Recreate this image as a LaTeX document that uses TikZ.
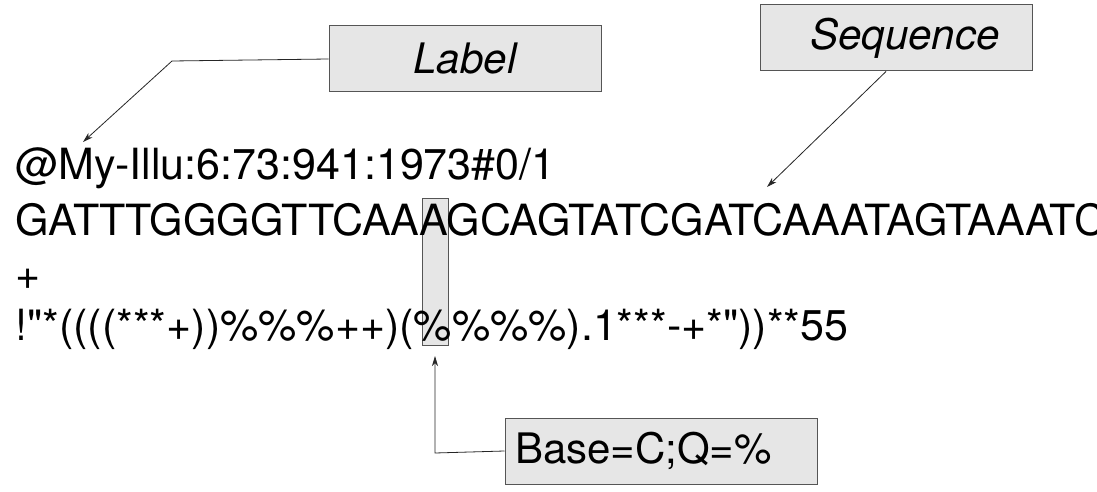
\documentclass[tikz,border=0pt]{standalone}
\usepackage{fontspec}
\setmainfont{TeX Gyre Heros}[Ligatures=TeXOff]
\usetikzlibrary{arrows.meta}
\definecolor{boxfill}{HTML}{E6E6E6}
\definecolor{boxline}{HTML}{555555}
\tikzset{
  fastq/.style={anchor=base west, inner sep=0pt, font=\fontsize{43}{50}\selectfont},
  callout/.style={draw=boxline, line width=1pt, fill=boxfill, minimum height=66pt, inner sep=0pt},
  conn/.style={line width=0.8pt, draw=black!85, -{Stealth[length=10pt,width=6pt,inset=3pt]}},
}
\begin{document}
\begin{tikzpicture}[x=1pt,y=-1pt]
\clip (0,0) rectangle (1097,492);
\fill[white] (0,0) rectangle (1097,492);
% highlight column
\node[draw=boxline, line width=0.8pt, fill=boxfill, minimum width=26pt, minimum height=147pt, inner sep=0pt] (hl) at (435,271.5) {};
% FASTQ lines
\node[fastq] (l1) at (15,179) {@My-Illu:6:73:941:1973\#0/1};
\node[fastq] (l2) at (15,235) {GATTTGGGGTTCAAAGCAGTATCGATCAAATAGTAAATC};
\node[fastq] (l3) at (15,289) {+};
\node[fastq] (l4) at (15,340) {!"*((((***+))\%\%\%++)(\%\%\%\%).1***-+*"))**55};
% callout boxes
\node[callout, minimum width=272pt, font=\fontsize{42}{50}\selectfont\itshape] (lab) at (465,59) {Label};
\node[callout, minimum width=272pt, font=\fontsize{42}{50}\selectfont\itshape] (seq) at (896,38) {\hspace*{18pt}Sequence};
\node[callout, minimum width=312pt, font=\fontsize{42}{50}\selectfont, text width=292pt, align=left] (base) at (661,451) {Base=C;Q=\%};
% connector points
\coordinate (labbend) at (172,61);
\coordinate (labtip) at (83,142);
\coordinate (seqtip) at (767,187);
\coordinate (basebend) at (435,453);
\coordinate (basetip) at (435,356);
% connectors
\draw[conn] (lab.west) -- (labbend) -- (labtip);
\draw[conn] ([xshift=-10pt]seq.south) -- (seqtip);
\draw[conn] (base.west) -- (basebend) -- (basetip);
\end{tikzpicture}
\end{document}
